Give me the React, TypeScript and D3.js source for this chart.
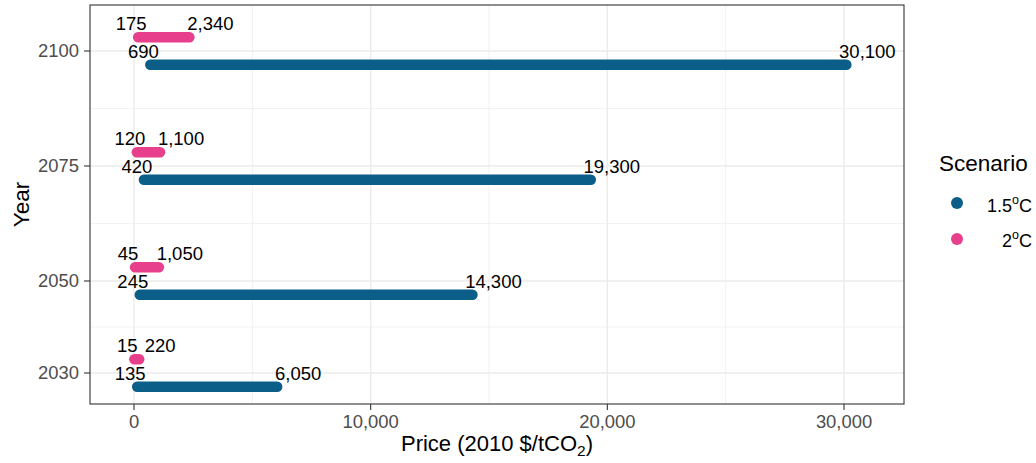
import React from "react";
import * as d3 from "d3";

const years = [2030, 2050, 2075, 2100];
const low15 = [135, 245, 420, 690];
const high15 = [6050, 14300, 19300, 30100];
const low2 = [15, 45, 120, 175];
const high2 = [220, 1050, 1100, 2340];
const xTicks = [0, 10000, 20000, 30000];
const xMinor = [5000, 15000, 25000];
const yMinor = [2040, 2062.5, 2087.5];
const seriesNames = ["1.5", "2"];
const colors = ["#0B5E87", "#E73F8B"];

const W = 1036, H = 463;
const P = { left: 90, right: 904, top: 5, bottom: 404 };
const FONT = "'Liberation Sans', Arial, Helvetica, sans-serif";

export default function App() {
  const x = d3.scaleLinear().domain([-1859, 32535]).range([P.left, P.right]);
  const y = d3.scaleLinear().domain([2023.26, 2110]).range([P.bottom, P.top]);
  const fmt = d3.format(",");
  const off = [-3, 3];
  const lows = [low15, low2];
  const highs = [high15, high2];

  return (
    <svg width={W} height={H} style={{ position: "absolute", left: 0, top: 0, background: "#fff" }} fontFamily={FONT}>
      <rect x={P.left} y={P.top} width={P.right - P.left} height={P.bottom - P.top} fill="#fff" />
      {xMinor.map((v) => (
        <line key={"xm" + v} x1={x(v)} x2={x(v)} y1={P.top} y2={P.bottom} stroke="#EBEBEB" strokeWidth={0.7} />
      ))}
      {yMinor.map((v) => (
        <line key={"ym" + v} x1={P.left} x2={P.right} y1={y(v)} y2={y(v)} stroke="#EBEBEB" strokeWidth={0.7} />
      ))}
      {xTicks.map((v) => (
        <line key={"xg" + v} x1={x(v)} x2={x(v)} y1={P.top} y2={P.bottom} stroke="#EBEBEB" strokeWidth={1.4} />
      ))}
      {years.map((v) => (
        <line key={"yg" + v} x1={P.left} x2={P.right} y1={y(v)} y2={y(v)} stroke="#EBEBEB" strokeWidth={1.4} />
      ))}
      {[0, 1].map((s) =>
        years.map((yr, i) => {
          const yy = y(yr + off[s]);
          return (
            <g key={s + "-" + yr}>
              <line x1={x(lows[s][i])} x2={x(highs[s][i])} y1={yy} y2={yy} stroke={colors[s]} strokeWidth={10.5} strokeLinecap="round" />
              <text x={x(lows[s][i]) - 7} y={yy - 7} textAnchor="middle" fontSize={18.5} fill="#000">{fmt(lows[s][i])}</text>
              <text x={x(highs[s][i]) + 21} y={yy - 7} textAnchor="middle" fontSize={18.5} fill="#000">{fmt(highs[s][i])}</text>
            </g>
          );
        })
      )}
      <rect x={P.left} y={P.top} width={P.right - P.left} height={P.bottom - P.top} fill="none" stroke="#333" strokeWidth={1.1} />
      {xTicks.map((v) => (
        <g key={"xt" + v}>
          <line x1={x(v)} x2={x(v)} y1={P.bottom} y2={P.bottom + 6} stroke="#333" strokeWidth={1.1} />
          <text x={x(v)} y={428} textAnchor="middle" fontSize={18.4} fill="#4D4D4D">{fmt(v)}</text>
        </g>
      ))}
      {years.map((v) => (
        <g key={"yt" + v}>
          <line x1={P.left - 6} x2={P.left} y1={y(v)} y2={y(v)} stroke="#333" strokeWidth={1.1} />
          <text x={79} y={y(v)} dy="0.35em" textAnchor="end" fontSize={18.4} fill="#4D4D4D">{v}</text>
        </g>
      ))}
      <text x={(P.left + P.right) / 2} y={451} textAnchor="middle" fontSize={22} fill="#000">
        Price (2010 $/tCO<tspan fontSize={15.5} dy={5}>2</tspan><tspan dy={-5}>)</tspan>
      </text>
      <text transform={`translate(29,${(P.top + P.bottom) / 2}) rotate(-90)`} textAnchor="middle" fontSize={22.5} fill="#000">Year</text>
      <text x={939} y={171} fontSize={22.5} fill="#000">Scenario</text>
      {seriesNames.map((n, i) => (
        <g key={"lg" + n}>
          <circle cx={957} cy={203 + i * 36} r={6} fill={colors[i]} />
          <text x={1032} y={211.5 + i * 35.5} textAnchor="end" fontSize={18} fill="#000">
            {n}<tspan fontSize={12.5} dy={-8}>o</tspan><tspan dy={8}>C</tspan>
          </text>
        </g>
      ))}
    </svg>
  );
}
